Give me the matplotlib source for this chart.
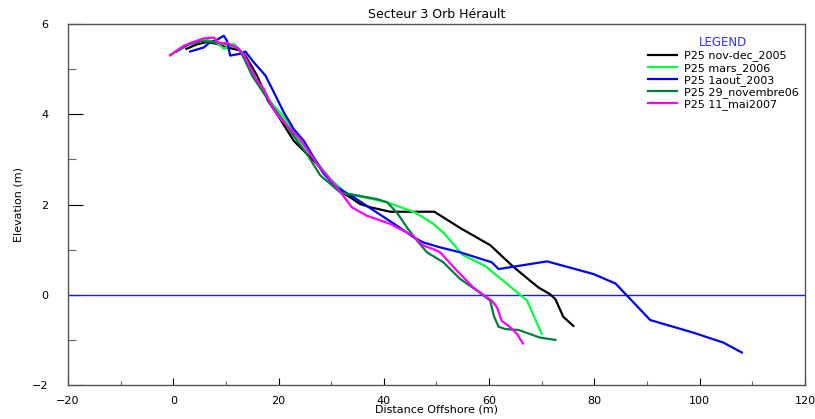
import matplotlib.pyplot as plt
from matplotlib.ticker import MultipleLocator

plt.rcParams['font.family'] = 'DejaVu Sans'

# profile P25, distance offshore (m) / elevation (m)
nov_dec_2005_x = [2.5, 4.5, 6.4, 8.3, 10.2, 12.5, 13.7, 15.9, 18.0, 20.0, 22.9, 27.3, 29.8,
                  32.0, 33.6, 35.5, 37.4, 41.2, 49.6, 54.5, 60.2, 64.6, 67.8, 69.4, 71.6,
                  72.6, 74.1, 76.0]
nov_dec_2005_y = [5.45, 5.55, 5.6, 5.56, 5.48, 5.42, 5.3, 4.86, 4.3, 3.95, 3.41, 2.9, 2.53,
                  2.27, 2.16, 2.01, 1.94, 1.84, 1.84, 1.48, 1.1, 0.62, 0.31, 0.16, 0.01,
                  -0.10, -0.49, -0.69]

mars_2006_x = [-0.6, 2.0, 4.5, 6.4, 8.3, 9.6, 11.5, 13.0, 14.6, 16.0, 17.5, 19.0, 21.0, 23.5,
               27.0, 30.0, 33.0, 36.2, 40.6, 46.0, 49.4, 51.3, 55.0, 59.2, 63.4, 67.2, 70.0]
mars_2006_y = [5.3, 5.5, 5.6, 5.65, 5.58, 5.45, 5.56, 5.38, 5.0, 4.72, 4.45, 4.2, 3.95, 3.5,
               2.98, 2.55, 2.23, 2.16, 2.05, 1.82, 1.57, 1.38, 0.88, 0.64, 0.24, -0.13, -0.87]

aout_2003_x = [3.2, 5.8, 7.0, 8.0, 9.6, 10.2, 10.8, 12.7, 13.7, 15.3, 17.5, 19.1, 21.0, 22.9,
               24.8, 26.7, 28.6, 31.1, 34.3, 38.7, 42.5, 45.7, 47.5, 50.7, 54.5, 60.5, 61.8,
               71.0, 79.8, 84.0, 86.2, 90.6, 98.8, 104.5, 108.0]
aout_2003_y = [5.39, 5.48, 5.6, 5.63, 5.74, 5.63, 5.3, 5.34, 5.39, 5.15, 4.86, 4.49, 4.04, 3.67,
               3.41, 3.04, 2.68, 2.38, 2.16, 1.82, 1.53, 1.27, 1.16, 1.05, 0.94, 0.72, 0.57,
               0.74, 0.46, 0.25, -0.02, -0.56, -0.84, -1.06, -1.28]

nov_2006_x = [0.5, 3.0, 5.5, 8.0, 10.5, 12.5, 13.6, 15.0, 17.0, 19.0, 21.0, 23.0, 25.5, 27.9,
              31.7, 35.0, 38.7, 40.6, 42.5, 44.4, 46.3, 48.2, 51.3, 54.5, 57.7, 60.2, 60.9,
              61.8, 63.1, 65.6, 69.7, 72.6]
nov_2006_y = [5.38, 5.55, 5.62, 5.6, 5.55, 5.45, 5.2, 4.85, 4.5, 4.15, 3.85, 3.5, 3.1, 2.65,
              2.27, 2.2, 2.12, 2.05, 1.82, 1.49, 1.2, 0.94, 0.72, 0.35, 0.09, -0.13, -0.47,
              -0.71, -0.76, -0.78, -0.95, -1.0]

mai_2007_x = [-0.6, 2.0, 4.5, 5.8, 7.7, 8.6, 10.2, 12.1, 13.4, 14.6, 15.9, 17.2, 18.4, 19.7,
              21.6, 24.1, 27.3, 31.1, 33.9, 36.8, 41.2, 45.5, 47.5, 49.4, 50.7, 53.9, 57.0,
              60.5, 61.5, 62.4, 64.0, 65.3, 66.4]
mai_2007_y = [5.31, 5.52, 5.63, 5.68, 5.7, 5.58, 5.58, 5.48, 5.32, 5.04, 4.75, 4.56, 4.26, 3.99,
              3.75, 3.45, 2.9, 2.38, 1.94, 1.75, 1.57, 1.31, 1.09, 1.01, 0.94, 0.53, 0.16,
              -0.13, -0.28, -0.58, -0.72, -0.87, -1.08]

fig = plt.figure(figsize=(8.15, 4.19), dpi=100)
ax = fig.add_axes([0.0834, 0.0811, 0.9043, 0.8616])

ax.axhline(0, color='#1a1aff', lw=1.0)
ax.plot(nov_dec_2005_x, nov_dec_2005_y, color='black', lw=1.6, label='P25 nov-dec_2005')
ax.plot(mars_2006_x, mars_2006_y, color='#00ff40', lw=1.6, label='P25 mars_2006')
ax.plot(aout_2003_x, aout_2003_y, color='#0000ff', lw=1.6, label='P25 1aout_2003')
ax.plot(nov_2006_x, nov_2006_y, color='#007f3f', lw=1.6, label='P25 29_novembre06')
ax.plot(mai_2007_x, mai_2007_y, color='#ff00ff', lw=1.6, label='P25 11_mai2007')

ax.set_xlim(-20, 120)
ax.set_ylim(-2, 6)
ax.xaxis.set_major_locator(MultipleLocator(20))
ax.xaxis.set_minor_locator(MultipleLocator(10))
ax.yaxis.set_major_locator(MultipleLocator(2))
ax.yaxis.set_minor_locator(MultipleLocator(1))

ax.tick_params(axis='y', which='major', direction='in', length=11, width=0.8, pad=14, labelsize=8)
ax.tick_params(axis='y', which='minor', direction='in', length=6, width=0.8, color='#666666')
ax.tick_params(axis='x', which='major', direction='in', length=5, width=0.8, pad=8, labelsize=8)
ax.tick_params(axis='x', which='minor', direction='in', length=3, width=0.8, color='#666666')
for s in ax.spines.values():
    s.set_color('#555555')
    s.set_linewidth(1.0)

ax.set_title('Secteur 3 Orb Hérault', fontsize=9, pad=4)
ax.set_xlabel('Distance Offshore (m)', fontsize=8, labelpad=-1)
ax.set_ylabel('Elevation (m)', fontsize=8, labelpad=6)

leg = ax.legend(loc='upper right', bbox_to_anchor=(1.0, 0.985), frameon=False, fontsize=8,
                title='LEGEND', title_fontsize=8.5, handlelength=2.6, handletextpad=0.6,
                labelspacing=0.12, borderaxespad=0.2)
leg.get_title().set_color('#3333ff')

fig.savefig('out.png', dpi=100)
